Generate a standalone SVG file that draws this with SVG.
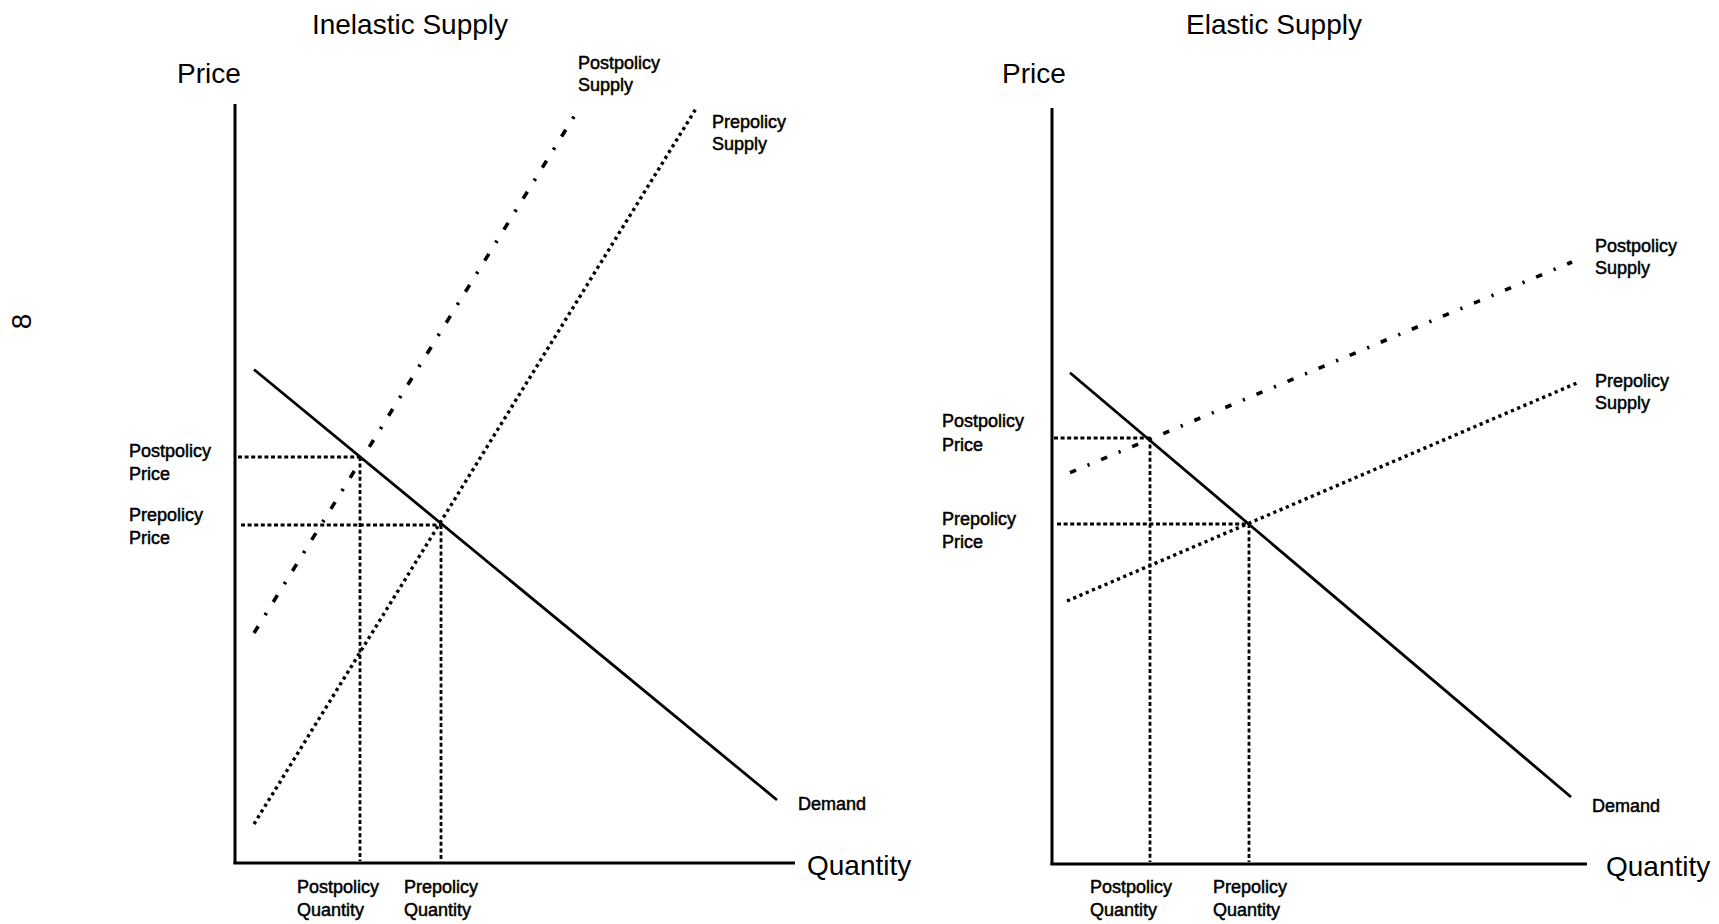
<svg xmlns="http://www.w3.org/2000/svg" width="1719" height="924" viewBox="0 0 1719 924">
  <style>
    text { font-family: "Liberation Sans", Arial, sans-serif; fill: #000; }
    .big { font-size: 28px; }
    .small { font-size: 18px; stroke: #000; stroke-width: 0.5px; }
    .axis { stroke: #000; stroke-width: 3; fill: none; }
    .demand { stroke: #000; stroke-width: 2.8; fill: none; }
    .guide { stroke: #000; stroke-width: 2.8; stroke-dasharray: 4 2.6; fill: none; }
    .pre { stroke: #000; stroke-width: 3.4; stroke-dasharray: 3.2 3.6; fill: none; }
    .post { stroke: #000; stroke-width: 3.6; stroke-dasharray: 8 13 2.5 13; fill: none; }
    .post-r { stroke: #000; stroke-width: 3.6; stroke-dasharray: 6.5 12.5 2.2 12.5; fill: none; }
  </style>
  <rect width="1719" height="924" fill="#fff"/>

  <!-- page number, printed sideways -->
  <text class="big" transform="translate(20.5,321.5) rotate(-90)" text-anchor="middle" y="10">8</text>

  <!-- Left chart: inelastic supply -->
  <g id="inelastic">
    <text class="big" x="410" y="34" text-anchor="middle">Inelastic Supply</text>
    <text class="big" x="177" y="83">Price</text>
    <text class="big" x="807" y="875">Quantity</text>

    <g id="inelastic-lines">
      <line class="axis" x1="235" y1="104" x2="235" y2="864"/>
      <line class="axis" x1="233.5" y1="863" x2="795" y2="863"/>
      <line class="guide" x1="238" y1="457" x2="360" y2="457"/>
      <line class="guide" x1="360" y1="457" x2="360" y2="861"/>
      <line class="guide" x1="241" y1="525" x2="441" y2="525"/>
      <line class="guide" x1="441" y1="525" x2="441" y2="861"/>
      <line class="pre" x1="254" y1="824" x2="697" y2="107"/>
      <line class="post" x1="254" y1="633" x2="580.5" y2="106"/>
      <line class="demand" x1="254" y1="369.5" x2="777" y2="800"/>
    </g>

    <g id="inelastic-labels">
      <text class="small" x="578" y="69">Postpolicy</text>
      <text class="small" x="578" y="91">Supply</text>
      <text class="small" x="712" y="128">Prepolicy</text>
      <text class="small" x="712" y="150">Supply</text>
      <text class="small" x="129" y="457">Postpolicy</text>
      <text class="small" x="129" y="480">Price</text>
      <text class="small" x="129" y="521">Prepolicy</text>
      <text class="small" x="129" y="544">Price</text>
      <text class="small" x="798" y="810">Demand</text>
      <text class="small" x="297" y="893">Postpolicy</text>
      <text class="small" x="297" y="916">Quantity</text>
      <text class="small" x="404" y="893">Prepolicy</text>
      <text class="small" x="404" y="916">Quantity</text>
    </g>
  </g>

  <!-- Right chart: elastic supply -->
  <g id="elastic">
    <text class="big" x="1274" y="34" text-anchor="middle">Elastic Supply</text>
    <text class="big" x="1002" y="83">Price</text>
    <text class="big" x="1606" y="876">Quantity</text>

    <g id="elastic-lines">
      <line class="axis" x1="1052" y1="108" x2="1052" y2="865"/>
      <line class="axis" x1="1050.5" y1="864" x2="1587" y2="864"/>
      <line class="guide" x1="1054" y1="438" x2="1150" y2="438"/>
      <line class="guide" x1="1150" y1="438" x2="1150" y2="862"/>
      <line class="guide" x1="1057" y1="524" x2="1249" y2="524"/>
      <line class="guide" x1="1249" y1="524" x2="1249" y2="862"/>
      <line class="pre" x1="1067" y1="601" x2="1577" y2="383"/>
      <line class="post-r" x1="1070" y1="472.7" x2="1572" y2="262"/>
      <line class="demand" x1="1070" y1="372.7" x2="1571" y2="797"/>
    </g>

    <g id="elastic-labels">
      <text class="small" x="1595" y="252">Postpolicy</text>
      <text class="small" x="1595" y="274">Supply</text>
      <text class="small" x="1595" y="387">Prepolicy</text>
      <text class="small" x="1595" y="409">Supply</text>
      <text class="small" x="942" y="427">Postpolicy</text>
      <text class="small" x="942" y="451">Price</text>
      <text class="small" x="942" y="525">Prepolicy</text>
      <text class="small" x="942" y="548">Price</text>
      <text class="small" x="1592" y="812">Demand</text>
      <text class="small" x="1090" y="893">Postpolicy</text>
      <text class="small" x="1090" y="916">Quantity</text>
      <text class="small" x="1213" y="893">Prepolicy</text>
      <text class="small" x="1213" y="916">Quantity</text>
    </g>
  </g>
</svg>
